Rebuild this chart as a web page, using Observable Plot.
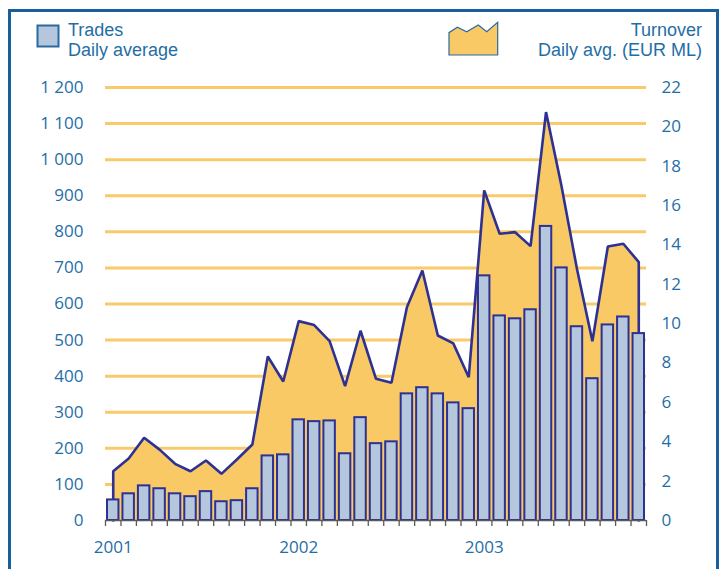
<!DOCTYPE html>
<html><head><meta charset="utf-8">
<script src="https://cdn.jsdelivr.net/npm/d3@7"></script>
<script src="https://cdn.jsdelivr.net/npm/@observablehq/plot@0.6"></script>
<style>
html,body{margin:0;padding:0;background:#fff;}
#wrap{position:relative;width:727px;height:569px;overflow:hidden;font-family:"Open Sans",sans-serif;color:#1f6ea6;}
#frame{position:absolute;left:8px;top:9px;width:705px;height:620px;border:3px solid #185f9c;pointer-events:none;z-index:3;}
.leg{position:absolute;font-family:"Liberation Sans",Arial,sans-serif;font-size:18px;line-height:20px;height:20px;white-space:nowrap;}
#chart{position:absolute;left:0;top:60px;}
#icons{position:absolute;left:0;top:0;}
</style></head><body>
<div id="wrap">
  <div id="frame"></div>
  <svg id="icons" width="727" height="60">
    <rect x="37.5" y="25.5" width="21" height="21" fill="#b4c7dc" stroke="#2a6aa0" stroke-width="2"></rect>
    <path d="M449,55 L449,32.7 L457.3,27.3 L466.7,31.7 L478.3,25 L486.7,31.7 L497.7,22.3 L497.7,55 Z" fill="#f8c965" stroke="#2a6aa0" stroke-width="1.2"></path>
  </svg>
  <div class="leg" style="left:68px;top:19.5px;">Trades</div>
  <div class="leg" style="left:68px;top:39.5px;">Daily average</div>
  <div class="leg" style="right:25px;top:19.5px;text-align:right;">Turnover</div>
  <div class="leg" style="right:25px;top:39.5px;text-align:right;">Daily avg. (EUR ML)</div>
  <div id="chart"></div>
</div>
<script>
const years = ["2001", "2002", "2003"];
const trades = [57, 74, 96, 88, 74, 66, 80, 52, 55, 88,
                179, 182, 279, 274, 276, 185, 285, 213, 218, 351,
                368, 351, 326, 310, 678, 567, 559, 584, 815, 700,
                537, 393, 542, 564, 518];
const turnover = [2.5, 3.15, 4.2, 3.6, 2.88, 2.5, 3.05, 2.37, 3.1, 3.86,
                  8.33, 7.06, 10.13, 9.93, 9.11, 6.83, 9.64, 7.2, 7.0, 10.84,
                  12.7, 9.4, 9.0, 7.28, 16.77, 14.57, 14.65, 13.94, 20.75, 17.0,
                  12.79, 9.11, 13.92, 14.06, 13.13];
const leftTicks = d3.range(0, 1300, 100);
const rightTicks = d3.range(0, 24, 2);

const textColor = "#1f6ea6";
const navy = "#2e3192";
const k = 1200 / 22;
const data = trades.map((t, i) => ({i, trades: t, turnover: turnover[i]}));
const outline = [{i: 0, turnover: 0}, ...data, {i: data.length - 1, turnover: 0}];

const chart = Plot.plot({
  width: 727, height: 509,
  marginTop: 27, marginBottom: 49, marginLeft: 105, marginRight: 81,
  style: {fontFamily: "Open Sans", fontSize: "17px", background: "transparent", color: textColor, overflow: "visible"},
  x: {type: "linear", domain: [0, trades.length]},
  y: {domain: [0, 1200]},
  marks: [
    Plot.ruleY(leftTicks.filter(d => d > 0), {stroke: "#f9c96a", strokeWidth: 3}),
    Plot.areaY(data, {x: d => d.i + 0.5, y: d => d.turnover * k, fill: "#f8c965"}),
    Plot.line(outline, {x: d => d.i + 0.5, y: d => d.turnover * k, stroke: navy, strokeWidth: 2.6, strokeLinejoin: "miter"}),
    Plot.rectY(data, {x1: d => d.i, x2: d => d.i + 1, y1: 0, y2: d => d.trades, insetLeft: 2, insetRight: 2, fill: "#b4c7dc", stroke: navy, strokeWidth: 2}),
    Plot.ruleY([0], {stroke: "#5a5a5a", strokeWidth: 1.6}),
    Plot.axisX(d3.range(0, trades.length + 1), {tickSize: 6, fill: "none", stroke: "#5a5a5a", strokeWidth: 1.3, label: null}),
    Plot.axisX(years.map((y, j) => j * 12 + 0.5), {tickSize: 0, tickPadding: 20, tickFormat: d => years[Math.round((d - 0.5) / 12)], fill: textColor, fontSize: 17, label: null}),
    Plot.axisY(leftTicks, {anchor: "left", tickSize: 0, tickPadding: 22, tickFormat: d => d3.format(",")(d).replace(",", " "), fill: textColor, fontSize: 17, label: null}),
    Plot.axisY(rightTicks.map(v => v * k), {anchor: "right", tickSize: 0, tickPadding: 15, tickFormat: d => String(Math.round(d / k)), fill: textColor, fontSize: 17, label: null})
  ]
});
document.getElementById("chart").appendChild(chart);
</script>
</body></html>
